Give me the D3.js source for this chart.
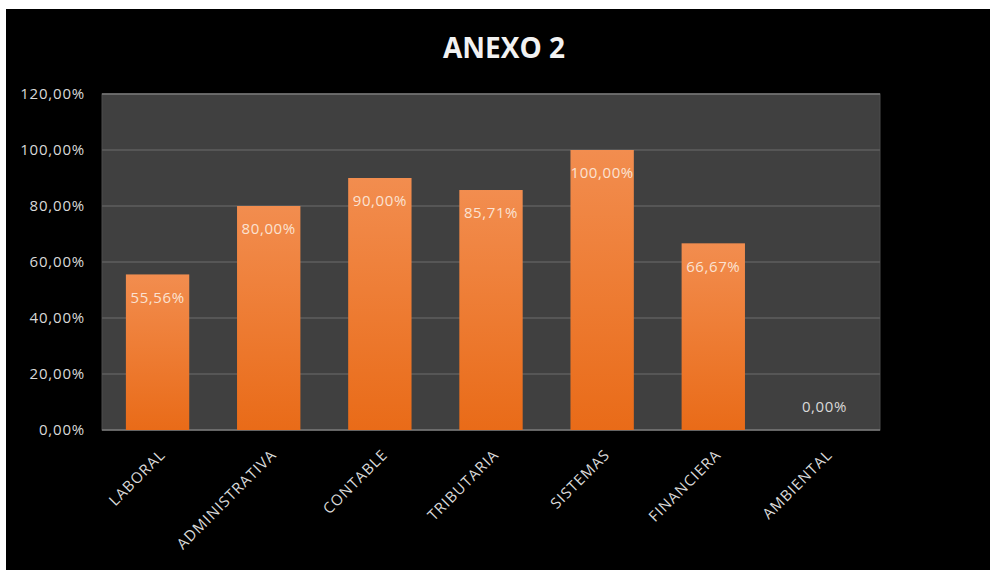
<!DOCTYPE html>
<html>
<head>
<meta charset="utf-8">
<script src="https://cdn.jsdelivr.net/npm/d3@7"></script>
<style>
  html, body { margin: 0; padding: 0; background: #fff; }
  svg { display: block; }
</style>
</head>
<body>
<svg id="chart" width="990" height="570"></svg>
<script>
// data
const categories = ["LABORAL", "ADMINISTRATIVA", "CONTABLE", "TRIBUTARIA", "SISTEMAS", "FINANCIERA", "AMBIENTAL"];
const values = [55.56, 80.00, 90.00, 85.71, 100.00, 66.67, 0.00];
const yTicks = [0, 20, 40, 60, 80, 100, 120];
const title = "ANEXO 2";

const width = 990, height = 570;
const plot = { left: 102, top: 94, right: 880, bottom: 430 };
const fontFamily = "'Open Sans', 'DejaVu Sans', sans-serif";
const textColor = "#d9d9d9";

const fmt = v => v.toFixed(2).replace(".", ",") + "%";

let svg = d3.select("#chart");

// black chart background with the white margin of the screenshot
svg.append("rect")
    .attr("x", 6).attr("y", 9)
    .attr("width", width - 6).attr("height", height - 9)
    .attr("fill", "#000");

let defs = svg.append("defs");
let grad = defs.append("linearGradient")
    .attr("id", "barGrad")
    .attr("x1", 0).attr("y1", 0).attr("x2", 0).attr("y2", 1);
grad.append("stop").attr("offset", "0%").attr("stop-color", "#f28d4f");
grad.append("stop").attr("offset", "100%").attr("stop-color", "#e96b18");

let xScale = d3.scaleBand()
    .domain(categories)
    .range([plot.left, plot.right])
    .paddingInner(0.43)
    .paddingOuter(0.215);

let yScale = d3.scaleLinear()
    .domain([0, 120])
    .range([plot.bottom, plot.top]);

// plot area
svg.append("rect")
    .attr("x", plot.left).attr("y", plot.top)
    .attr("width", plot.right - plot.left).attr("height", plot.bottom - plot.top)
    .attr("fill", "#404040")
    .attr("stroke", "#4c4c4c");

// gridlines
svg.append("g")
    .selectAll("line")
    .data(yTicks)
    .join("line")
    .attr("x1", plot.left).attr("x2", plot.right)
    .attr("y1", d => yScale(d)).attr("y2", d => yScale(d))
    .attr("stroke", d => (d === 0 || d === 120) ? "#7a7a7a" : "#5e5e5e")
    .attr("stroke-width", 1.5);

// y axis labels
let yAxis = svg.append("g")
    .attr("transform", "translate(" + (plot.left - 17) + ",0)")
    .call(d3.axisLeft(yScale).tickValues(yTicks).tickFormat(fmt).tickSize(0));
yAxis.select("path").remove();
yAxis.selectAll("text")
    .attr("x", 0)
    .style("font-family", fontFamily)
    .style("font-size", "15px")
    .style("letter-spacing", "0.8px")
    .style("fill", textColor);

// bars
svg.append("g")
    .selectAll("rect")
    .data(values)
    .join("rect")
    .attr("x", (d, i) => xScale(categories[i]))
    .attr("y", d => yScale(d))
    .attr("width", xScale.bandwidth())
    .attr("height", d => yScale(0) - yScale(d))
    .attr("fill", "url(#barGrad)");

// value labels
svg.append("g")
    .selectAll("text")
    .data(values)
    .join("text")
    .attr("x", (d, i) => xScale(categories[i]) + xScale.bandwidth() / 2)
    .attr("y", d => d > 0 ? yScale(d) + 23 : yScale(d) - 23)
    .attr("dy", "0.35em")
    .attr("text-anchor", "middle")
    .style("font-family", fontFamily)
    .style("font-size", "15px")
    .style("letter-spacing", "0.6px")
    .style("fill", d => d > 0 ? "#fbe2d2" : textColor)
    .text(fmt);

// x axis labels, rotated
let xAxis = svg.append("g")
    .attr("transform", "translate(0," + plot.bottom + ")")
    .call(d3.axisBottom(xScale).tickSize(0));
xAxis.select("path").remove();
xAxis.selectAll("text")
    .attr("transform", "translate(5,22) rotate(-45)")
    .attr("x", 0).attr("y", 0).attr("dy", "0.35em")
    .attr("text-anchor", "end")
    .style("font-family", fontFamily)
    .style("font-size", "15px")
    .style("letter-spacing", "1px")
    .style("fill", textColor);

// title
svg.append("text")
    .attr("x", 504).attr("y", 58)
    .attr("text-anchor", "middle")
    .style("font-family", fontFamily)
    .style("font-weight", "bold")
    .style("font-size", "28px")
    .style("fill", "#f2f2f2")
    .text(title);
</script>
</body>
</html>
